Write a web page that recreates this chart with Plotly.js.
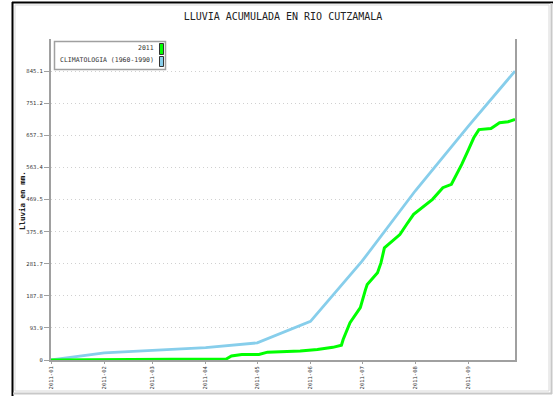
<!DOCTYPE html>
<html>
<head>
<meta charset="utf-8">
<script src="https://cdn.plot.ly/plotly-3.0.1.min.js"></script>
<style>html,body{margin:0;padding:0;background:#fff;}#chart{width:553px;height:396px;}</style>
</head>
<body>
<div id="chart"></div>
<script>
// ---- data ----
const climDates = ['2011-01-01','2011-02-01','2011-03-01','2011-04-01','2011-05-01','2011-06-01','2011-07-01','2011-08-01','2011-09-01','2011-09-28'];
const climValues = [0, 21, 28, 36, 50, 113, 289, 495, 685, 845.1];

const rainDates = ['2011-01-01','2011-03-10','2011-03-12','2011-04-13','2011-04-16','2011-04-22','2011-05-02','2011-05-07','2011-05-18','2011-05-26','2011-06-05','2011-06-14','2011-06-19','2011-06-20','2011-06-24','2011-06-30','2011-07-03','2011-07-04','2011-07-10','2011-07-12','2011-07-14','2011-07-23','2011-07-27','2011-07-31','2011-08-11','2011-08-17','2011-08-22','2011-08-26','2011-08-28','2011-09-01','2011-09-04','2011-09-07','2011-09-14','2011-09-16','2011-09-19','2011-09-24','2011-09-28'];
const rainValues = [0, 0, 2, 3, 12, 16, 16, 23, 24, 26, 31, 37, 43, 60, 109, 153, 206, 221, 255, 284, 328, 367, 397, 426, 470, 504, 514, 552, 572, 616, 650, 674, 677, 684, 694, 697, 704];

const yTicks = [0, 93.9, 187.8, 281.7, 375.6, 469.5, 563.4, 657.3, 751.2, 845.1];
const yTickLabels = ['0', '93.9', '187.8', '281.7', '375.6', '469.5', '563.4', '657.3', '751.2', '845.1'];
const xTicks = ['2011-01-01','2011-02-01','2011-03-01','2011-04-01','2011-05-01','2011-06-01','2011-07-01','2011-08-01','2011-09-01'];
const xTickLabels = ['2011-01','2011-02','2011-03','2011-04','2011-05','2011-06','2011-07','2011-08','2011-09'];

const seriesNames = ['2011', 'CLIMATOLOGIA (1960-1990)'];
const seriesColors = ['#00ff00', '#87ceeb'];

// ---- layout helpers (pixel -> paper) ----
const L = 51, R = 38, T = 39, B = 36, W = 553, H = 396;
const PW = W - L - R, PH = H - T - B;
const px = x => (x - L) / PW;
const py = y => (H - B - y) / PH;
const MONO = '"DejaVu Sans Mono", "Liberation Mono", monospace';

const traces = [
  {x: climDates, y: climValues, type: 'scatter', mode: 'lines', name: seriesNames[1],
   line: {color: seriesColors[1], width: 2.8}, showlegend: false, hoverinfo: 'skip'},
  {x: rainDates, y: rainValues, type: 'scatter', mode: 'lines', name: seriesNames[0],
   line: {color: seriesColors[0], width: 3}, showlegend: false, hoverinfo: 'skip'}
];

const shapes = [
  // outer frame
  {type: 'rect', xref: 'paper', yref: 'paper', x0: px(15), x1: px(549), y0: py(5), y1: py(391), line: {color: '#d8d8d8', width: 1}},
  {type: 'line', xref: 'paper', yref: 'paper', x0: px(12.5), x1: px(12.5), y0: py(2), y1: py(396), line: {color: '#000', width: 2}},
  {type: 'line', xref: 'paper', yref: 'paper', x0: px(12), x1: px(553), y0: py(2.5), y1: py(2.5), line: {color: '#000', width: 2}},
  {type: 'line', xref: 'paper', yref: 'paper', x0: px(551.5), x1: px(551.5), y0: py(3), y1: py(394), line: {color: '#c8c8c8', width: 2}},
  {type: 'line', xref: 'paper', yref: 'paper', x0: px(13), x1: px(552), y0: py(393.5), y1: py(393.5), line: {color: '#c8c8c8', width: 2}},
  // legend box
  {type: 'rect', xref: 'paper', yref: 'paper', x0: px(54.5), x1: px(165.5), y0: py(41.5), y1: py(69.5), line: {color: '#a0a0a0', width: 1.5}, fillcolor: '#fff'},
  // legend swatches
  {type: 'rect', xref: 'paper', yref: 'paper', x0: px(159.5), x1: px(163.5), y0: py(43.5), y1: py(54.5), line: {color: '#333', width: 1}, fillcolor: seriesColors[0]},
  {type: 'rect', xref: 'paper', yref: 'paper', x0: px(159.5), x1: px(163.5), y0: py(56.5), y1: py(66.5), line: {color: '#333', width: 1}, fillcolor: seriesColors[1]}
];

const annotations = [
  {xref: 'paper', yref: 'paper', x: px(156), y: py(48), xanchor: 'right', yanchor: 'middle', showarrow: false,
   text: seriesNames[0], font: {family: MONO, size: 6.5, color: '#333'}},
  {xref: 'paper', yref: 'paper', x: px(156), y: py(60), xanchor: 'right', yanchor: 'middle', showarrow: false,
   text: seriesNames[1], font: {family: MONO, size: 6.5, color: '#333'}},
  // y axis title
  {xref: 'paper', yref: 'paper', x: px(22), y: py(201), xanchor: 'center', yanchor: 'middle', showarrow: false,
   textangle: -90, text: '<b>Lluvia en mm.</b>', font: {family: MONO, size: 7.5, color: '#222'}}
];

const layout = {
  width: W, height: H,
  margin: {l: L, r: R, t: T, b: B, pad: 0},
  paper_bgcolor: '#fff', plot_bgcolor: '#fff',
  showlegend: false,
  title: {text: 'LLUVIA ACUMULADA EN RIO CUTZAMALA', x: 0.5, xref: 'paper', xanchor: 'center', y: 1 - 16.5 / H, yanchor: 'middle',
          font: {family: MONO, size: 10, color: '#222'}},
  xaxis: {
    type: 'date', range: ['2011-01-01', '2011-09-28'],
    tickmode: 'array', tickvals: xTicks, ticktext: xTickLabels, tickangle: -90,
    tickfont: {family: MONO, size: 5.5, color: '#333'},
    showgrid: false, zeroline: false,
    showline: true, linecolor: '#a0a0a0', linewidth: 2, mirror: false,
    ticks: 'outside', ticklen: 2, tickcolor: '#a0a0a0'
  },
  yaxis: {
    range: [0, 939],
    tickmode: 'array', tickvals: yTicks, ticktext: yTickLabels,
    tickfont: {family: MONO, size: 5.5, color: '#333'},
    showgrid: true, gridcolor: '#d0d0d0', griddash: '1px,3px', gridwidth: 1,
    zeroline: false,
    showline: true, linecolor: '#a0a0a0', linewidth: 2, mirror: true,
    ticks: 'outside', ticklen: 5, tickcolor: '#a0a0a0'
  },
  shapes: shapes,
  annotations: annotations
};

Plotly.newPlot('chart', traces, layout, {staticPlot: true, displayModeBar: false});
</script>
</body>
</html>
